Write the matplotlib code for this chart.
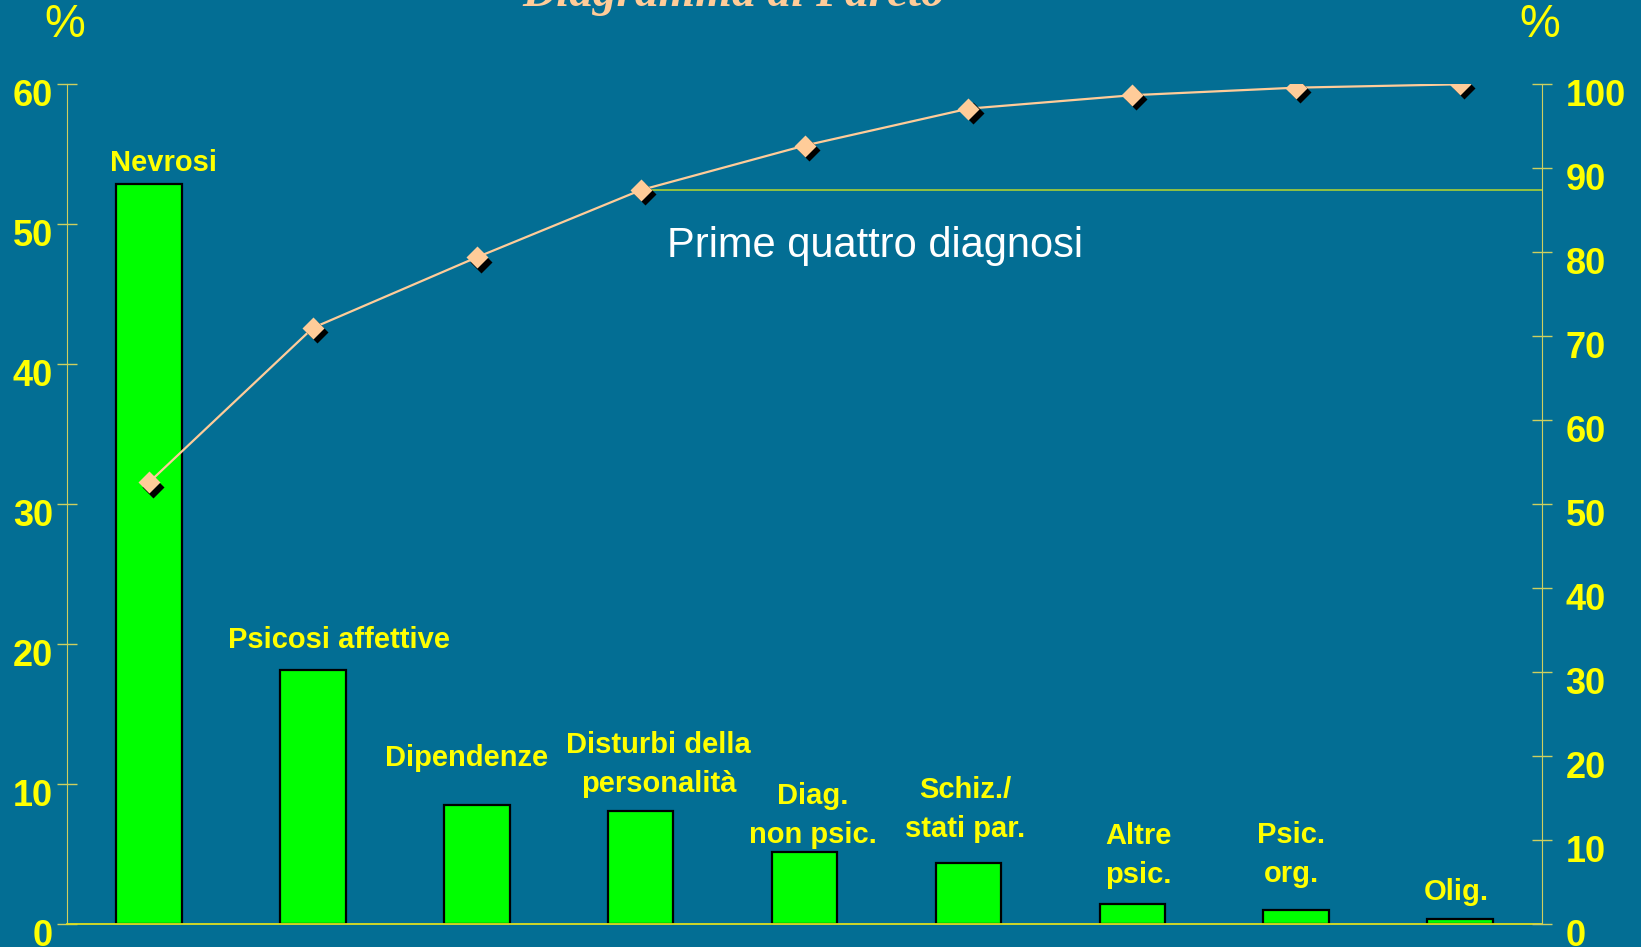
#!/usr/bin/env python3
# Diagramma di Pareto - diagnosi psichiatriche (barre %) + curva cumulata
import matplotlib; matplotlib.use("Agg")
import matplotlib.pyplot as plt
import matplotlib.transforms as mtrans

BG     = "#036E94"
YEL    = "#FFFF00"
PEACH  = "#FFCC99"
SPINE  = "#CFCF5F"

CATS   = ["Nevrosi", "Psicosi affettive", "Dipendenze", "Disturbi della\npersonalità",
          "Diag.\nnon psic.", "Schiz./\nstati par.", "Altre\npsic.", "Psic.\norg.", "Olig."]
PCT    = [52.85, 18.2, 8.49, 8.09, 5.18, 4.37, 1.43, 1.02, 0.36]      # asse sx
CUM    = [52.6, 71.0, 79.4, 87.4, 92.7, 97.1, 98.7, 99.6, 100.0]      # asse dx
# posizione etichette (x in indice categoria, y su asse sx)
LAB_XY = [(0.09, 54.35), (1.16, 20.3), (1.94, 11.85), (3.11, 11.45), (4.05, 7.75),
          (4.98, 8.2), (6.04, 4.95), (6.97, 5.0), (7.98, 2.3)]

plt.rcParams["font.family"] = ["Liberation Sans", "DejaVu Sans"]

W, H = 1641, 947
fig = plt.figure(figsize=(W/100, H/100), dpi=100, facecolor=BG)
ax = fig.add_axes([67/W, 22.7/H, (1542-67)/W, (924.3-84.3)/H], facecolor=BG)
ax2 = ax.twinx()

x = list(range(len(CATS)))
ax.bar(x, PCT, width=0.4, color="#00FF00", edgecolor="black", linewidth=1.6, zorder=2)
ax.set_xlim(-0.5, 8.5); ax.set_ylim(0, 60)
ax2.set_ylim(0, 100)

# linea "prime quattro"
ax2.plot([3, 8.5], [CUM[3], CUM[3]], color="#9CC83C", lw=1.3, zorder=1, clip_on=False)
# curva cumulata con ombra sotto i rombi
ax2.plot(x, CUM, color=PEACH, lw=1.6, zorder=3)
sh = mtrans.offset_copy(ax2.transData, fig=fig, x=3, y=-3, units="points")
ax2.plot(x, CUM, ls="none", marker="D", ms=11, color="black", mec="none", transform=sh, zorder=4)
ax2.plot(x, CUM, ls="none", marker="D", ms=11, color=PEACH, mec="none", zorder=5)

for (lx, ly), c in zip(LAB_XY, CATS):
    ax.text(lx, ly, c, ha="center", va="center", color=YEL, fontsize=21,
            fontweight="bold", linespacing=1.5, zorder=6)
ax.text(4.43, 47.7, "Prime quattro diagnosi", ha="center", va="baseline",
        color="white", fontsize=30)

# assi
for a in (ax, ax2):
    for s in a.spines.values(): s.set_visible(False)
ax.spines["left"].set_visible(True); ax.spines["left"].set_color(SPINE)
ax2.spines["right"].set_visible(True); ax2.spines["right"].set_color(SPINE)
ax.spines["bottom"].set_visible(True); ax.spines["bottom"].set_color("#E0E020")
ax.spines["bottom"].set_linewidth(1.3)
ax.set_xticks([])
ax.set_yticks(range(0, 61, 10)); ax2.set_yticks(range(0, 101, 10))
ax.tick_params(axis="y", direction="inout", length=14, width=1, color=SPINE,
               labelcolor=YEL, labelsize=26, pad=3)
ax2.tick_params(axis="y", direction="inout", length=14, width=1, color=SPINE,
                labelcolor=YEL, labelsize=26, pad=10)
off = mtrans.ScaledTranslation(0, -8/100, fig.dpi_scale_trans)
for lab in ax.get_yticklabels() + ax2.get_yticklabels():
    lab.set_fontweight("bold"); lab.set_transform(lab.get_transform() + off)

fig.text(65/W, 1-25/H, "%", ha="center", va="center", color=YEL, fontsize=33)
fig.text(1540/W, 1-25/H, "%", ha="center", va="center", color=YEL, fontsize=33)
fig.text(734/W, 1-6/H, "Diagramma di Pareto", ha="center", va="baseline", color=PEACH,
         fontsize=34, fontweight="bold", fontstyle="italic",
         family=["Liberation Serif", "DejaVu Serif"])

fig.savefig("out.png", dpi=100, facecolor=BG)
